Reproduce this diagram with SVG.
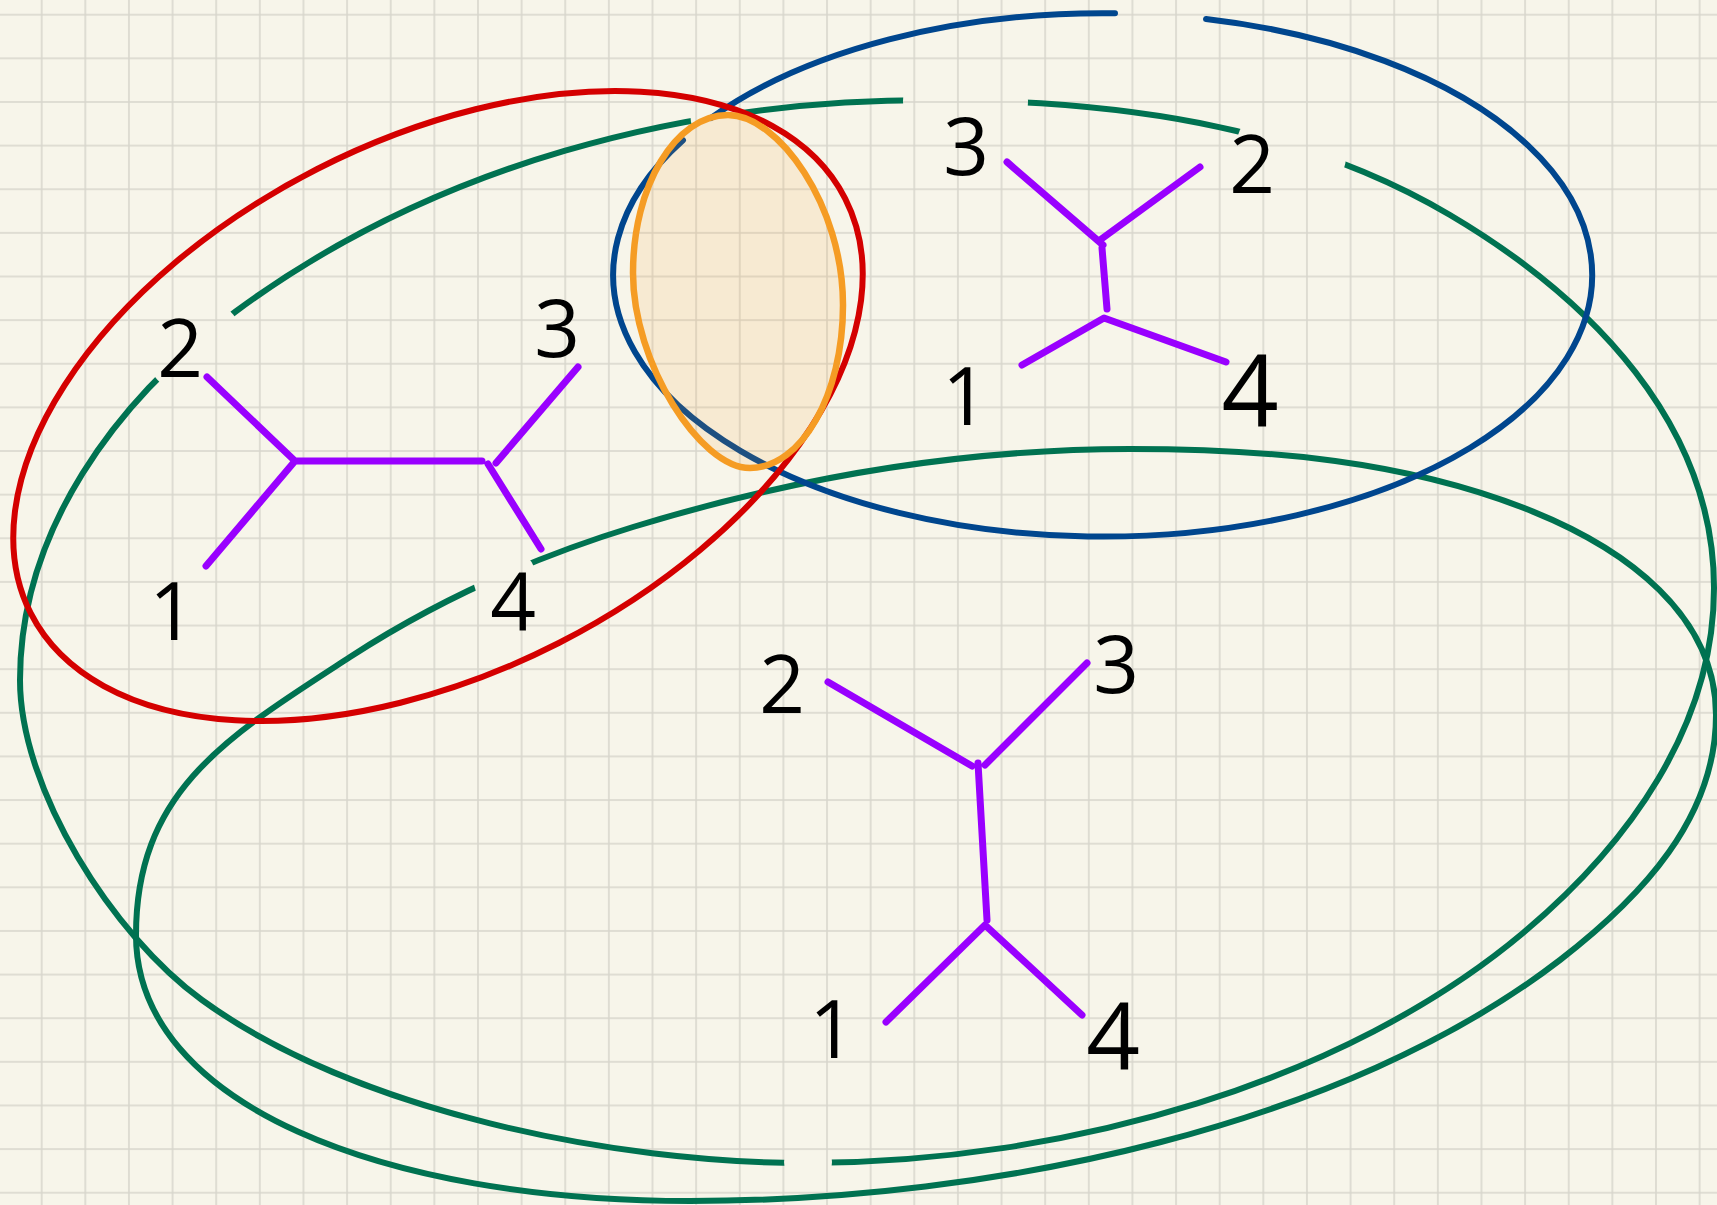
<svg xmlns="http://www.w3.org/2000/svg" width="1717" height="1205" viewBox="0 0 1717 1205">
<style>
.g{fill:none;stroke:#007251;stroke-width:6;stroke-linecap:round}
.b{fill:none;stroke:#00468e;stroke-width:6;stroke-linecap:round}
.r{fill:none;stroke:#d40000;stroke-width:6}
.o{fill:#f39c28;fill-opacity:0.12;stroke:#f59c24;stroke-width:6.5}
.p{stroke:#9900ff;stroke-width:7;stroke-linecap:round;stroke-linejoin:round;fill:none}
.t{font-family:"Open Sans","Liberation Sans",sans-serif;font-weight:400;font-size:80px;fill:#000;text-anchor:middle}
</style>
<defs>
<pattern id="grid" x="19.88" y="-7.1" width="43.63" height="43.63" patternUnits="userSpaceOnUse">
<path d="M21.815 0V43.63M0 21.815H43.63" stroke="#000" stroke-opacity="0.13" stroke-width="1.5" fill="none"/>
</pattern>
<mask id="gapA" maskUnits="userSpaceOnUse" x="0" y="0" width="1717" height="1205">
<rect width="1717" height="1205" fill="#fff"/>
<circle cx="195" cy="346.75" r="50" fill="#000"/>
<circle cx="715.5" cy="117" r="25" fill="#000"/>
<circle cx="965.5" cy="101.35" r="62.5" fill="#000"/>
<circle cx="1291" cy="151.65" r="55.5" fill="#000"/>
<circle cx="808" cy="1162" r="24" fill="#000"/>
</mask>
<mask id="gapB" maskUnits="userSpaceOnUse" x="0" y="0" width="1717" height="1205">
<rect width="1717" height="1205" fill="#fff"/>
<circle cx="505" cy="579" r="31.5" fill="#000"/>
</mask>
</defs>
<rect width="1717" height="1205" fill="#f7f5ea"/>
<rect width="1717" height="1205" fill="url(#grid)"/>

<g id="curves">
<path id="green-outer" class="g" mask="url(#gapA)" d="M20,680 C20,531 115.2,400.6 235,312 C433.6,165 683,100 930,100 C1111,100 1294.2,122.9 1450,215 C1592,299 1714,425 1714,588 C1714,726 1628.7,844.3 1523,933 C1346.8,1080.9 1070,1163 805,1163 C615,1163 355.7,1111.7 202,1000 C113,935.3 20,790 20,680 Z"/>
<path id="green-inner" class="g" mask="url(#gapB)" d="M136,935 C136,790 228.3,736 350,657 C437.3,600.3 533.6,557.4 633,527 C793.6,477.9 962,449 1130,449 C1267,449 1406,460.2 1533,511.6 C1625.7,549.1 1716,615 1716,715 C1716,818 1641.6,897.2 1560,960 C1346.2,1124.7 997,1201 690,1201 C384,1201 136,1105 136,935 Z"/>
<g id="blue-loop">
<path class="b" d="M1206,19.1 A489.5 261.7 0 1 1 683,140.2"/>
<path class="b" d="M1115,13.3 A489.5 261.7 0 0 0 711,118"/>
</g>
<ellipse id="red-loop" class="r" cx="438" cy="406" rx="457" ry="266" transform="rotate(-27 438 406)"/>
<path id="orange-region" class="o" d="M728,115 C778,115 843,205 843,305 C843,395 801.4,468 750,468 C700,468 633,363 633,273 C633,185.7 675.5,115 728,115 Z"/>
</g>

<g id="tree-left">
<path class="p" d="M207,377 L295,461 L206,566 M295,461 L482,461 M496,463 L578,367 M488,464 L541,549"/>
<text class="t" x="180" y="377">2</text>
<text class="t" x="172" y="640">1</text>
<text class="t" x="557" y="357">3</text>
<text class="t" x="513" y="630">4</text>
</g>
<g id="tree-top-right">
<path class="p" d="M1007,162 L1103,245 M1100,240 L1200,167 M1102,248 L1107,309 M1022,365 L1104,318 L1226,362"/>
<text class="t" x="966" y="175">3</text>
<text class="t" x="1252" y="193">2</text>
<text class="t" x="965" y="425">1</text>
<text class="t" x="1250" y="427" style="font-size:100px">4</text>
</g>
<g id="tree-bottom">
<path class="p" d="M828,682 L972,766 M985,765 L1087,663 M978,763 L987,920 M886,1022 L985,925 L1082,1015"/>
<text class="t" x="782" y="713">2</text>
<text class="t" x="1116" y="693">3</text>
<text class="t" x="832" y="1058">1</text>
<text class="t" x="1113" y="1070" style="font-size:94px">4</text>
</g>
</svg>
